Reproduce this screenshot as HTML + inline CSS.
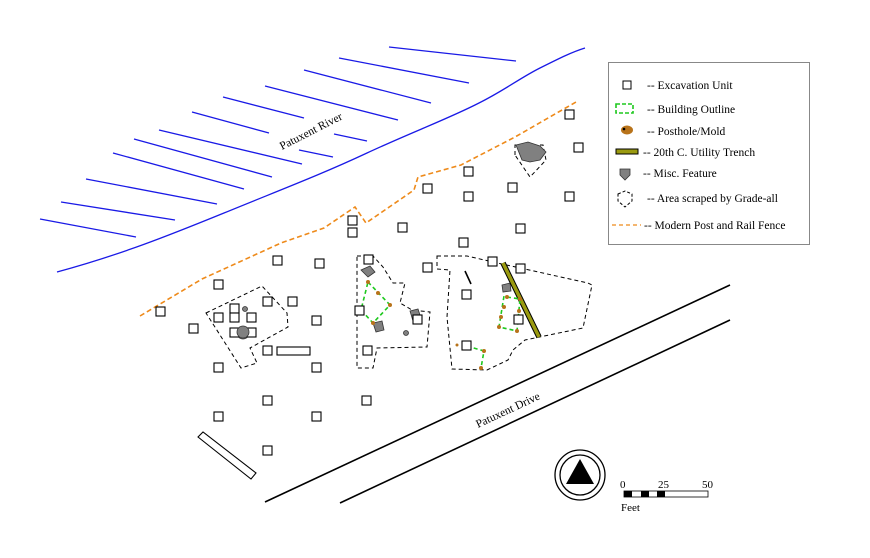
<!DOCTYPE html>
<html><head><meta charset="utf-8"><style>
html,body{margin:0;padding:0;background:#fff;}
svg{display:block;}
text{font-family:"Liberation Serif",serif;}
</style></head><body>
<svg width="870" height="558" viewBox="0 0 870 558" xmlns="http://www.w3.org/2000/svg">
<g stroke="#1a1ae6" stroke-width="1.3" fill="none">
<line x1="389" y1="47" x2="516" y2="61"/>
<line x1="339" y1="58" x2="469" y2="83"/>
<line x1="304" y1="70" x2="431" y2="103"/>
<line x1="265" y1="86" x2="398" y2="120"/>
<line x1="223" y1="97" x2="304" y2="118"/>
<line x1="334" y1="134" x2="367" y2="141"/>
<line x1="192" y1="112" x2="269" y2="133"/>
<line x1="299" y1="150" x2="333" y2="157"/>
<line x1="159" y1="130" x2="302" y2="164"/>
<line x1="134" y1="139" x2="272" y2="177"/>
<line x1="113" y1="153" x2="244" y2="189"/>
<line x1="86" y1="179" x2="217" y2="204"/>
<line x1="61" y1="202" x2="175" y2="220"/>
<line x1="40" y1="219" x2="136" y2="237"/>
<path d="M57,272 C120,255 170,235 224,213 C280,190 320,175 367,153 C410,133 450,118 479,103 C505,90 520,78 540,68 C560,58 572,52 585,48"/>
</g>
<text x="0" y="0" font-size="11.5" transform="translate(282,150) rotate(-27)">Patuxent River</text>
<path d="M140,316 L202,279 L281,243 L324,228 L355,207 L366,223 L414,190 L418,177 L461,165 L515,137 L576,102" fill="none" stroke="#ee8a1a" stroke-width="1.6" stroke-dasharray="5,3"/>
<line x1="265" y1="502" x2="730" y2="285" stroke="#000" stroke-width="1.6"/>
<line x1="340" y1="503" x2="730" y2="320" stroke="#000" stroke-width="1.6"/>
<text x="0" y="0" font-size="11.5" transform="translate(478,428) rotate(-25)">Patuxent Drive</text>
<!-- scraped areas -->
<g fill="none" stroke="#000" stroke-width="1" stroke-dasharray="4,3">
<polygon points="206,313 262,286 287,313 288,327 250,348 257,363 241,368"/>
<polygon points="357,256 373,256 383,267 393,283 405,283 400,303 412,310 430,312 427,347 377,348 373,368 357,368"/>
<polygon points="437,256 467,256 493,262 588,283 592,285 583,328 525,340 513,350 508,360 487,370 452,369 447,317 450,270 437,269"/>
<polygon points="515,155 515,145 543,145 546,160 530,177"/>
</g>
<!-- misc features -->
<g fill="#808080" stroke="#333" stroke-width="0.8">
<path d="M516,145 L528,142 L540,146 L546,152 L540,160 L530,162 L522,160 Z"/>
<path d="M361,270 L370,266 L375,272 L368,277 Z"/>
<path d="M373,323 L382,321 L384,330 L376,332 Z"/>
<path d="M410,311 L418,309 L421,318 L413,321 Z"/>
<path d="M502,285 L510,283 L511,291 L503,292 Z"/>
<ellipse cx="243" cy="333" rx="6" ry="6"/>
<circle cx="245" cy="309" r="2.5"/>
<circle cx="406" cy="333" r="2.5"/>
</g>
<!-- trench -->
<line x1="503" y1="263" x2="539" y2="337" stroke="#000" stroke-width="5.5"/>
<line x1="503" y1="263" x2="539" y2="337" stroke="#9a9a10" stroke-width="3.5"/>
<line x1="465" y1="271" x2="471" y2="284" stroke="#000" stroke-width="1.6"/>
<!-- buildings -->
<g fill="none" stroke="#1ec81e" stroke-width="1.6" stroke-dasharray="4,3">
<polygon points="368,282 390,305 373,323 361,310"/>
<polygon points="507,297 520,299 517,331 499,327 504,296"/>
<polyline points="467,346 484,351 481,368"/>
</g>
<g fill="#b8731a">
<circle cx="368" cy="282" r="2"/><circle cx="378" cy="293" r="2"/><circle cx="390" cy="305" r="2"/><circle cx="361" cy="310" r="2"/><circle cx="373" cy="323" r="2"/>
<circle cx="507" cy="297" r="2"/><circle cx="520" cy="299" r="2"/><circle cx="519" cy="311" r="2"/><circle cx="517" cy="331" r="2"/><circle cx="499" cy="327" r="2"/><circle cx="501" cy="317" r="2"/><circle cx="504" cy="307" r="2"/>
<circle cx="467" cy="346" r="2"/><circle cx="484" cy="351" r="2"/><circle cx="481" cy="368" r="2"/><circle cx="457" cy="345" r="1.5"/>
</g>
<!-- units -->
<g fill="#fff" stroke="#000" stroke-width="1.1">
<rect x="565" y="110" width="9" height="9"/><rect x="574" y="143" width="9" height="9"/>
<rect x="464" y="167" width="9" height="9"/><rect x="423" y="184" width="9" height="9"/><rect x="464" y="192" width="9" height="9"/>
<rect x="508" y="183" width="9" height="9"/><rect x="565" y="192" width="9" height="9"/>
<rect x="348" y="216" width="9" height="9"/><rect x="348" y="228" width="9" height="9"/><rect x="398" y="223" width="9" height="9"/>
<rect x="516" y="224" width="9" height="9"/><rect x="459" y="238" width="9" height="9"/>
<rect x="273" y="256" width="9" height="9"/><rect x="315" y="259" width="9" height="9"/><rect x="364" y="255" width="9" height="9"/>
<rect x="423" y="263" width="9" height="9"/><rect x="488" y="257" width="9" height="9"/><rect x="516" y="264" width="9" height="9"/>
<rect x="462" y="290" width="9" height="9"/><rect x="355" y="306" width="9" height="9"/><rect x="413" y="315" width="9" height="9"/>
<rect x="514" y="315" width="9" height="9"/><rect x="363" y="346" width="9" height="9"/><rect x="462" y="341" width="9" height="9"/>
<rect x="214" y="280" width="9" height="9"/><rect x="263" y="297" width="9" height="9"/><rect x="288" y="297" width="9" height="9"/>
<rect x="312" y="316" width="9" height="9"/><rect x="189" y="324" width="9" height="9"/><rect x="156" y="307" width="9" height="9"/>
<rect x="214" y="313" width="9" height="9"/><rect x="230" y="304" width="9" height="9"/><rect x="230" y="313" width="9" height="9"/>
<rect x="247" y="313" width="9" height="9"/><rect x="230" y="328" width="9" height="9"/><rect x="247" y="328" width="9" height="9"/>
<rect x="263" y="346" width="9" height="9"/><rect x="277" y="347" width="33" height="8"/>
<rect x="214" y="363" width="9" height="9"/><rect x="312" y="363" width="9" height="9"/>
<rect x="263" y="396" width="9" height="9"/><rect x="362" y="396" width="9" height="9"/>
<rect x="214" y="412" width="9" height="9"/><rect x="312" y="412" width="9" height="9"/><rect x="263" y="446" width="9" height="9"/>
<polygon points="198,437 203,432 256,473 251,479"/>
</g>
<ellipse cx="243" cy="332" rx="6" ry="6" fill="#808080" stroke="#333" stroke-width="0.8"/>
<!-- legend -->
<rect x="608.5" y="62.5" width="201" height="182" fill="#fff" stroke="#888" stroke-width="1"/>
<g font-size="11.5">
<rect x="623" y="81" width="8" height="8" fill="#fff" stroke="#000"/>
<text x="647" y="89">-- Excavation Unit</text>
<rect x="616" y="104" width="17" height="9" fill="none" stroke="#1ec81e" stroke-width="1.6" stroke-dasharray="4,2"/>
<text x="647" y="113">-- Building Outline</text>
<ellipse cx="627" cy="130" rx="6" ry="4.5" fill="#b8731a"/><circle cx="624" cy="129" r="1.3" fill="#000"/>
<text x="647" y="135">-- Posthole/Mold</text>
<rect x="616" y="149" width="22" height="5" fill="#9a9a10" stroke="#000" stroke-width="1"/>
<text x="643" y="156">-- 20th C. Utility Trench</text>
<path d="M620,169 L630,169 L630,175 L625,180 L620,175 Z" fill="#808080" stroke="#333" stroke-width="0.8"/>
<text x="643" y="177">-- Misc. Feature</text>
<path d="M618,194 L625,191 L632,194 L632,201 L625,207 L618,201 Z" fill="none" stroke="#000" stroke-dasharray="3,2"/>
<text x="647" y="202">-- Area scraped by Grade-all</text>
<line x1="612" y1="225" x2="641" y2="225" stroke="#ee8a1a" stroke-width="1.3" stroke-dasharray="4,3"/>
<text x="644" y="229">-- Modern Post and Rail Fence</text>
</g>
<!-- north arrow -->
<circle cx="580" cy="475" r="25" fill="none" stroke="#000" stroke-width="1.3"/>
<circle cx="580" cy="475" r="20" fill="none" stroke="#000" stroke-width="1.3"/>
<polygon points="580,459 594,484 566,484" fill="#000"/>
<!-- scale -->
<g font-size="11">
<text x="620" y="488">0</text><text x="658" y="488">25</text><text x="702" y="488">50</text>
<rect x="624" y="491" width="84" height="6" fill="#fff" stroke="#000" stroke-width="0.8"/>
<rect x="624" y="491" width="8" height="6" fill="#000"/><rect x="641" y="491" width="8" height="6" fill="#000"/><rect x="657" y="491" width="8" height="6" fill="#000"/>
<text x="621" y="511">Feet</text>
</g>
</svg>
</body></html>
